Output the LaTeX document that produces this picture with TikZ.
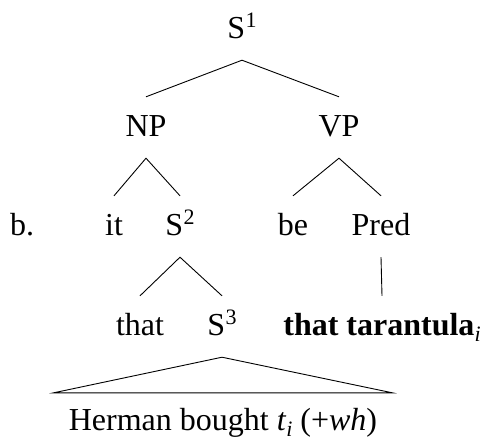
\documentclass[tikz,border=0pt]{standalone}
\usepackage{fontspec}
\setmainfont{Liberation Serif}
\newcommand{\tsup}[1]{\kern0.5pt\raisebox{10.5pt}{\fontsize{22}{22}\selectfont #1}}
\newcommand{\tsub}[1]{\raisebox{-6pt}{\fontsize{22}{22}\selectfont\itshape #1}}
\begin{document}
\begin{tikzpicture}[x=1pt,y=1pt,
  lbl/.style={anchor=base, font=\fontsize{32}{38}\selectfont, text height=17pt, text depth=0pt, inner xsep=0pt, inner ysep=22pt},
  branch/.style={line width=0.9pt}]
\useasboundingbox (0,0) rectangle (481,-440);
\node[lbl] (s1) at (242,-38) {S\tsup{1}};
\node[lbl] (np) at (146,-136) {NP};
\node[lbl] (vp) at (339,-136) {VP};
\node[lbl] (b) at (22,-235) {b.};
\node[lbl] (it) at (114,-235) {it};
\node[lbl] (s2) at (180,-235) {S\tsup{2}};
\node[lbl] (be) at (293,-235) {be};
\node[lbl] (pred) at (381,-235) {Pred};
\node[lbl] (that) at (140,-335) {that};
\node[lbl] (s3) at (222,-335) {S\tsup{3}};
\node[lbl] (tar) at (382,-335) {\textbf{that tarantula}\tsub{i}};
\node[lbl, inner xsep=15pt, inner ysep=20pt] (herman) at (223,-430) {Herman bought \textit{t}\tsub{i} (+\textit{wh})};
\draw[branch] (np.north) -- (s1.south) -- (vp.north);
\draw[branch] (it.north) -- (np.south) -- (s2.north);
\draw[branch] (be.north) -- (vp.south) -- (pred.north);
\draw[branch] (that.north) -- (s2.south) -- (s3.north);
\draw[branch] (pred.south) -- (tar.north);
\draw[branch] (s3.south) -- (herman.north west) -- (herman.north east) -- cycle;
\end{tikzpicture}
\end{document}
